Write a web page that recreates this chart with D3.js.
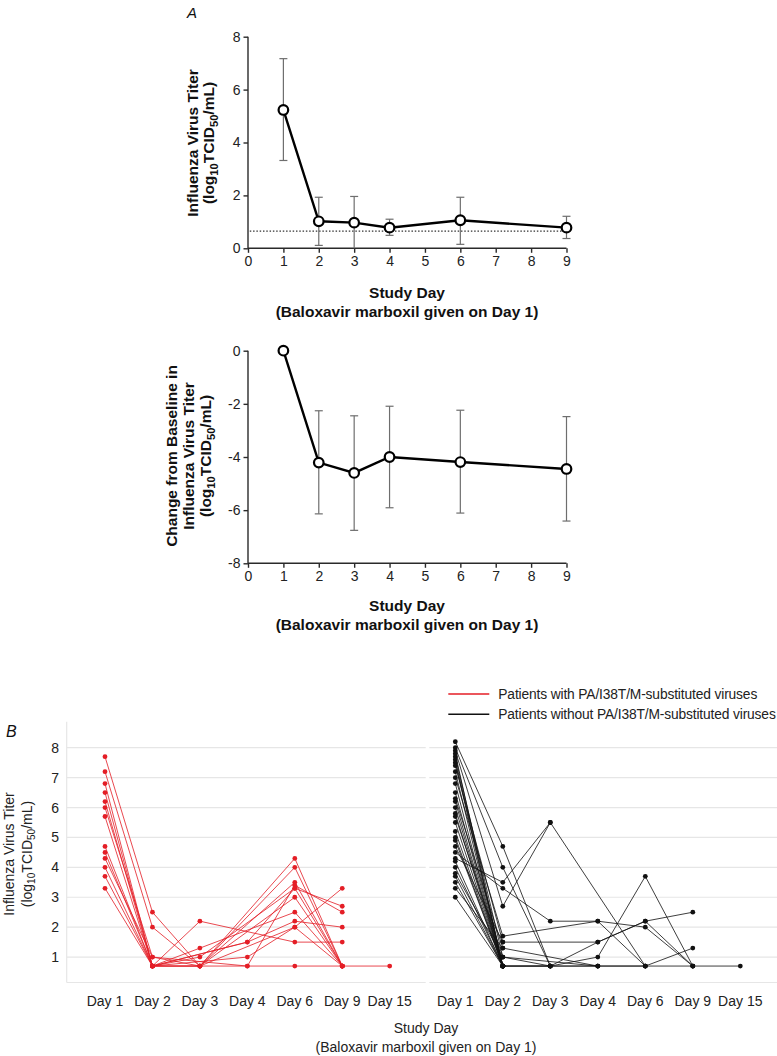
<!DOCTYPE html>
<html><head><meta charset="utf-8">
<script src="https://cdn.jsdelivr.net/npm/d3@7"></script>
<style>
html,body{margin:0;padding:0;background:#fff;}
svg{display:block;font-family:"Liberation Sans",Arial,Helvetica,sans-serif;}
</style></head>
<body>
<svg id="chart" width="777" height="1056"></svg>
<script>
// ---------------- DATA ----------------
// Panel A (top): mean virus titer by study day with error bars
const studyDays = [1, 2, 3, 4, 6, 9];
const titerMean = [5.23, 1.02, 0.97, 0.78, 1.06, 0.78];
const titerLow  = [3.32, 0.11, 0.00, 0.49, 0.15, 0.37];
const titerHigh = [7.17, 1.93, 1.96, 1.10, 1.93, 1.21];
const lloq = 0.65;
const xTicksA = [0,1,2,3,4,5,6,7,8,9];
const yTicksTop = [0,2,4,6,8];
// Panel A (middle): change from baseline
const changeMean = [0, -4.21, -4.60, -4.00, -4.19, -4.45];
const changeLow  = [null, -6.14, -6.76, -5.91, -6.11, -6.41];
const changeHigh = [null, -2.26, -2.45, -2.09, -2.24, -2.48];
const yTicksMid = [0,-2,-4,-6,-8];
// Panel B: individual patients (values per day, null = not measured)
const dayLabels = ["Day 1","Day 2","Day 3","Day 4","Day 6","Day 9","Day 15"];
const yTicksB = [1,2,3,4,5,6,7,8];
const redPatients = [
  [7.7, 2.5, 0.7, null, 4.3, 0.7, null],
  [7.2, 2.0, 0.7, null, 4.0, 0.7, null],
  [6.8, 0.7, 2.2, null, 1.5, 1.5, null],
  [6.5, 0.7, 1.3, null, 2.5, 0.7, null],
  [6.2, 0.7, 1.0, null, 3.3, 2.7, null],
  [6.0, 1.0, 0.7, null, 3.5, 0.7, null],
  [5.7, 0.7, 0.7, null, 3.0, 0.7, null],
  [4.7, 0.7, null, 1.5, 2.2, 2.0, null],
  [4.5, 0.7, null, 1.0, 2.0, 3.3, null],
  [4.3, 1.0, null, 0.7, 3.4, 2.5, null],
  [4.0, 0.7, 0.7, 0.7, 0.7, 0.7, 0.7],
  [3.7, 0.7, 0.7, null, 2.0, 0.7, null],
  [3.3, 0.7, null, 1.5, 3.3, 0.7, null]
];
const blackPatients = [
  [8.2, 4.7, 0.7, null, null, null, null],
  [8.0, 4.0, 0.7, null, null, null, null],
  [7.9, 2.7, 5.5, null, null, null, null],
  [7.8, 0.7, null, null, null, null, null],
  [7.7, 1.0, null, 0.7, null, null, null],
  [7.6, 0.7, null, null, null, null, null],
  [7.5, 0.7, 0.7, 1.5, 2.2, 2.5, null],
  [7.4, 1.5, null, 1.5, 2.2, 0.7, null],
  [7.2, 0.7, null, null, null, null, null],
  [7.0, 1.7, null, 2.2, 0.7, null, null],
  [6.8, 0.7, 0.7, 1.0, 3.7, 0.7, null],
  [6.5, 0.7, null, null, null, null, null],
  [6.3, 1.3, null, 0.7, null, null, null],
  [6.2, 0.7, null, null, null, null, null],
  [6.0, 0.7, 0.7, 0.7, 0.7, 1.3, null],
  [5.8, 0.7, null, null, null, null, null],
  [5.7, 1.0, 0.7, 0.7, 0.7, 0.7, 0.7],
  [5.5, 0.7, null, null, null, null, null],
  [5.2, 0.7, null, null, null, null, null],
  [5.0, 0.7, null, null, null, null, null],
  [4.9, 0.7, null, null, null, null, null],
  [4.7, 1.5, null, null, null, null, null],
  [4.5, 3.3, 2.2, 2.2, 2.0, 0.7, null],
  [4.3, 3.5, 5.5, null, 0.7, null, null],
  [4.2, 0.7, null, null, null, null, null],
  [4.0, 0.7, null, null, null, null, null],
  [3.8, 1.0, null, null, null, null, null],
  [3.7, 0.7, null, null, null, null, null],
  [3.5, 0.7, null, null, null, null, null],
  [3.3, 1.3, null, null, null, null, null],
  [3.0, 0.7, null, null, null, null, null]
];
const legendLabels = ["Patients with PA/I38T/M-substituted viruses","Patients without PA/I38T/M-substituted viruses"];

// ---------------- DRAW ----------------
const svg = d3.select("#chart");
const RED = "#e41e26";

function subLabel(t, parts, fs) {
  let prevSub = false;
  parts.forEach(([s, sub]) => {
    const ts = t.append("tspan").text(s);
    if (sub) ts.attr("font-size", fs*0.72).attr("dy", prevSub ? 0 : fs*0.28);
    else ts.attr("dy", prevSub ? -fs*0.28 : 0);
    prevSub = sub;
  });
}

// ----- Panel A top -----
const xA = d3.scaleLinear().domain([0,9]).range([248, 566.5]);
const yTop = d3.scaleLinear().domain([0,8]).range([248.3, 36.7]);
const gTop = svg.append("g");

function drawAxesA(g, x, y, yTicks, yBottomVal) {
  const axisColor = "#2a2a2a";
  const xa = g.append("g").attr("transform", `translate(0,${y(yBottomVal)})`)
    .call(d3.axisBottom(x).tickValues(xTicksA).tickSize(4.5).tickPadding(3).tickFormat(d3.format("d")));
  const ya = g.append("g").attr("transform", `translate(${x(0)},0)`)
    .call(d3.axisLeft(y).tickValues(yTicks).tickSize(4.5).tickPadding(3).tickFormat(d => d < 0 ? "-" + Math.abs(d) : d));
  [xa, ya].forEach(a => {
    a.select(".domain").attr("stroke", axisColor).attr("stroke-width", 1.4);
    a.selectAll(".tick line").attr("stroke", axisColor).attr("stroke-width", 1.4);
    a.selectAll(".tick text").attr("font-size", 14).attr("fill", "#222")
      .attr("font-family", "'Liberation Sans',Arial,sans-serif");
  });
  xa.select(".domain").attr("d", `M${x(0)},0H${x(9)}`);
  ya.select(".domain").attr("d", `M0,${y.range()[0]}V${y.range()[1]}`);
}

drawAxesA(gTop, xA, yTop, yTicksTop, 0);

// dotted LLOQ line
gTop.append("line").attr("x1", xA(0.05)).attr("x2", xA(9)).attr("y1", yTop(lloq)).attr("y2", yTop(lloq))
  .attr("stroke", "#333").attr("stroke-width", 1.3).attr("stroke-dasharray", "1.5,1.8");

function drawErrorBars(g, x, y, days, lo, hi) {
  days.forEach((d,i) => {
    if (lo[i] === null) return;
    const cx = x(d);
    g.append("line").attr("x1", cx).attr("x2", cx).attr("y1", y(lo[i])).attr("y2", y(hi[i]))
      .attr("stroke", "#6e6e6e").attr("stroke-width", 1.2);
    [lo[i], hi[i]].forEach(v => {
      if (v <= y.domain()[0] + 0.001 && v !== hi[i]) return;
      g.append("line").attr("x1", cx-4).attr("x2", cx+4).attr("y1", y(v)).attr("y2", y(v))
        .attr("stroke", "#6e6e6e").attr("stroke-width", 1.2);
    });
  });
}
function drawMeanLine(g, x, y, days, vals) {
  const line = d3.line().x((d,i) => x(days[i])).y(d => y(d));
  g.append("path").datum(vals).attr("d", line).attr("fill", "none")
    .attr("stroke", "#000").attr("stroke-width", 2.4);
  g.selectAll("circle.m").data(vals).enter().append("circle")
    .attr("cx", (d,i) => x(days[i])).attr("cy", d => y(d)).attr("r", 4.8)
    .attr("fill", "#fff").attr("stroke", "#000").attr("stroke-width", 2.2);
}
drawErrorBars(gTop, xA, yTop, studyDays, titerLow, titerHigh);
drawMeanLine(gTop, xA, yTop, studyDays, titerMean);

function yTitle(g, lines, cx0, cy, fs, bold) {
  lines.forEach((parts, k) => {
    const t = g.append("text")
      .attr("transform", `translate(${cx0[k]},${cy}) rotate(-90)`)
      .attr("text-anchor", "middle").attr("font-size", fs)
      .attr("font-weight", bold ? "bold" : "normal").attr("fill", "#111");
    subLabel(t, parts, fs);
  });
}
const titleLine2 = [["(log",false],["10",true],["TCID",false],["50",true],["/mL)",false]];
yTitle(gTop, [[["Influenza Virus Titer",false]], titleLine2], [197.5, 214], 143, 15.5, true);

function xTitleA(g, cx, y1, y2) {
  g.append("text").attr("x", cx).attr("y", y1).attr("text-anchor", "middle")
    .attr("font-size", 15.5).attr("font-weight", "bold").attr("fill", "#111").text("Study Day");
  g.append("text").attr("x", cx).attr("y", y2).attr("text-anchor", "middle")
    .attr("font-size", 15.5).attr("font-weight", "bold").attr("fill", "#111").text("(Baloxavir marboxil given on Day 1)");
}
xTitleA(gTop, 407, 298, 317);

svg.append("text").attr("x", 187).attr("y", 18).attr("font-size", 15).attr("font-style", "italic")
  .attr("fill", "#111").text("A");

// ----- Panel A middle -----
const yMid = d3.scaleLinear().domain([-8,0]).range([563.3, 350.7]);
const gMid = svg.append("g");
drawAxesA(gMid, xA, yMid, yTicksMid, -8);
drawErrorBars(gMid, xA, yMid, studyDays, changeLow, changeHigh);
drawMeanLine(gMid, xA, yMid, studyDays, changeMean);
yTitle(gMid, [[["Change from Baseline in",false]], [["Influenza Virus Titer",false]], titleLine2],
  [177, 194, 211], 456, 15.5, true);
xTitleA(gMid, 407, 611, 630);

// ----- Panel B -----
const yB = d3.scaleLinear().domain([0.15, 8.87]).range([982.5, 721.7]);
const panels = [
  {x0: 66.7, x1: 425.7, range: [105, 389.7], data: redPatients, color: RED, left: true},
  {x0: 429.3, x1: 777, range: [455.3, 740.3], data: blackPatients, color: "#111", left: false}
];
const gB = svg.append("g");
panels.forEach(p => {
  const x = d3.scalePoint().domain(dayLabels).range(p.range);
  const g = gB.append("g");
  g.selectAll("line.grid").data(yTicksB.concat([0.15])).enter().append("line")
    .attr("x1", p.x0).attr("x2", p.x1).attr("y1", d => yB(d)).attr("y2", d => yB(d))
    .attr("stroke", "#e6e6e6").attr("stroke-width", 1.2);
  if (p.left) {
    g.append("line").attr("x1", p.x0).attr("x2", p.x0).attr("y1", yB(0.15)).attr("y2", yB(8.87))
      .attr("stroke", "#e6e6e6").attr("stroke-width", 1.2);
    g.selectAll("text.yt").data(yTicksB).enter().append("text")
      .attr("x", 59).attr("y", d => yB(d) + 5).attr("text-anchor", "end")
      .attr("font-size", 14).attr("fill", "#222").text(d => d);
  }
  g.selectAll("text.xt").data(dayLabels).enter().append("text")
    .attr("x", d => x(d)).attr("y", 1006).attr("text-anchor", "middle")
    .attr("font-size", 14).attr("fill", "#222").text(d => d);
  const line = d3.line().x(d => x(d.day)).y(d => yB(d.v));
  p.data.forEach(row => {
    const pts = row.map((v,i) => ({day: dayLabels[i], v})).filter(d => d.v !== null);
    g.append("path").datum(pts).attr("d", line).attr("fill", "none")
      .attr("stroke", p.color).attr("stroke-width", 0.9).attr("stroke-opacity", 0.9);
  });
  p.data.forEach(row => {
    row.forEach((v,i) => {
      if (v === null) return;
      g.append("circle").attr("cx", x(dayLabels[i])).attr("cy", yB(v)).attr("r", 2.4).attr("fill", p.color);
    });
  });
});

// Panel B y title
gB.append("text").attr("transform", `translate(13.5,854) rotate(-90)`)
  .attr("text-anchor", "middle").attr("font-size", 14).attr("fill", "#222").text("Influenza Virus Titer");
const tB2 = gB.append("text").attr("transform", `translate(31.5,854) rotate(-90)`)
  .attr("text-anchor", "middle").attr("font-size", 14).attr("fill", "#222");
subLabel(tB2, titleLine2, 14);

// Panel B x title
gB.append("text").attr("x", 426).attr("y", 1033).attr("text-anchor", "middle")
  .attr("font-size", 14).attr("fill", "#222").text("Study Day");
gB.append("text").attr("x", 426).attr("y", 1051.5).attr("text-anchor", "middle")
  .attr("font-size", 14).attr("fill", "#222").text("(Baloxavir marboxil given on Day 1)");

svg.append("text").attr("x", 6).attr("y", 737).attr("font-size", 16).attr("font-style", "italic")
  .attr("fill", "#111").text("B");

// Legend
const legendColors = [RED, "#111"];
const legendWidths = [259, 277.5];
legendLabels.forEach((lab, i) => {
  const ly = 694 + i * 20.3;
  svg.append("line").attr("x1", 448.3).attr("x2", 489.3).attr("y1", ly).attr("y2", ly)
    .attr("stroke", legendColors[i]).attr("stroke-width", 1.4);
  svg.append("text").attr("x", 498.3).attr("y", ly + 4.8).attr("font-size", 13.8)
    .attr("textLength", legendWidths[i]).attr("lengthAdjust", "spacing")
    .attr("fill", "#222").text(lab);
});
</script>
</body></html>
